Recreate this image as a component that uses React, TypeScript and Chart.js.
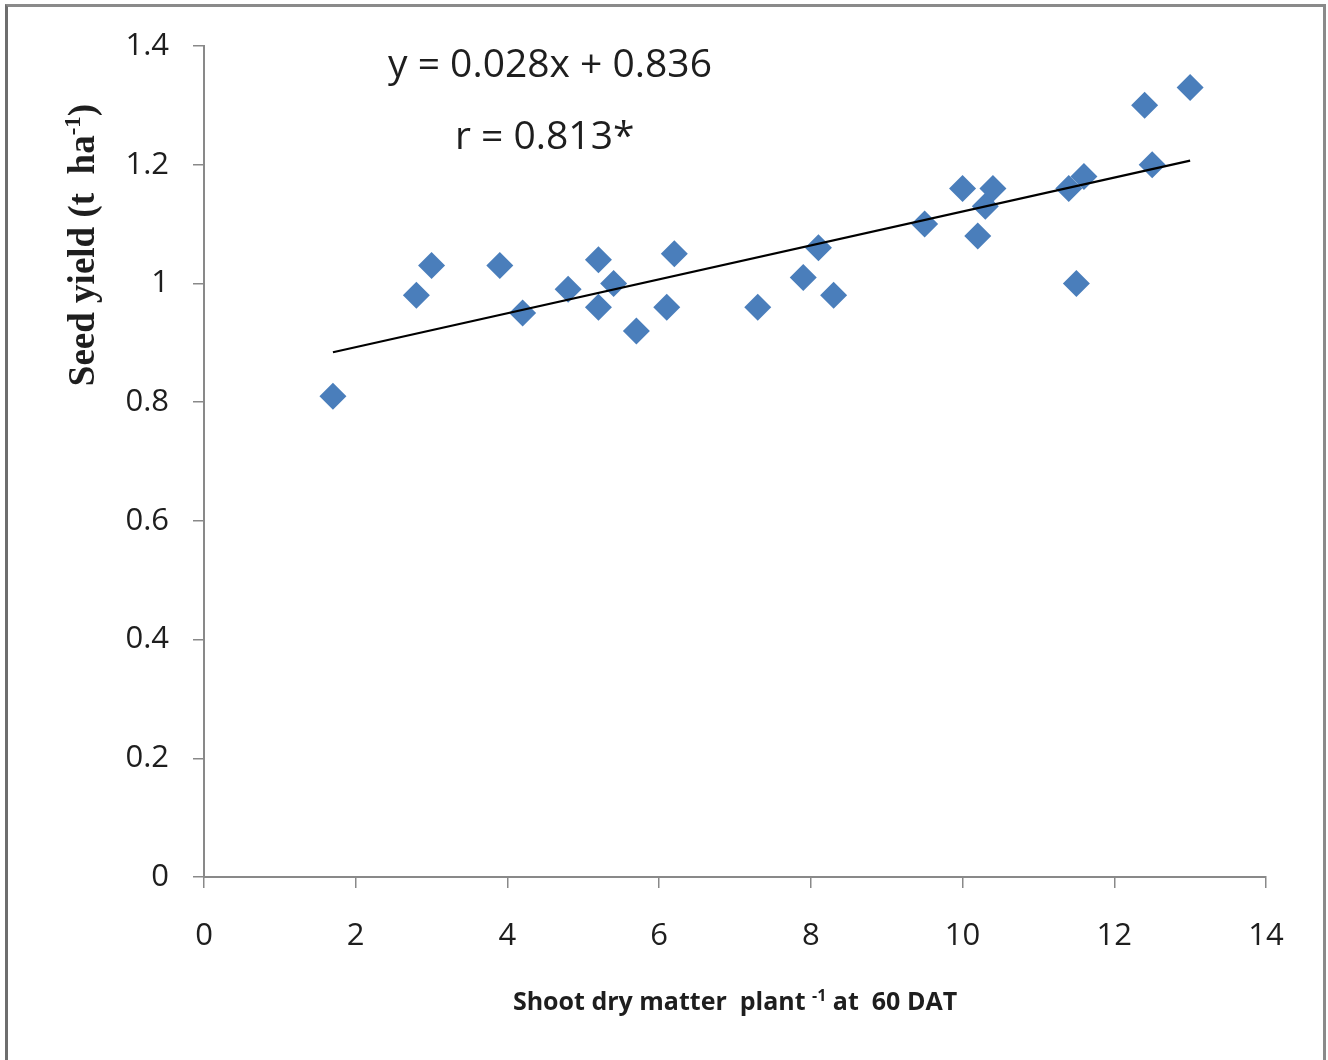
import React, { useEffect, useRef } from 'react';
import { Chart, registerables } from 'chart.js';

Chart.register(...registerables);

// Data
const shootDryMatter = [1.7, 2.8, 3.0, 3.9, 4.2, 4.8, 5.2, 5.2, 5.4, 5.7, 6.1, 6.2, 7.3, 7.9, 8.1, 8.3, 9.5, 10.0, 10.2, 10.3, 10.4, 11.4, 11.5, 11.6, 12.4, 12.5, 13.0];
const seedYield = [0.81, 0.98, 1.03, 1.03, 0.95, 0.99, 1.04, 0.96, 1.0, 0.92, 0.96, 1.05, 0.96, 1.01, 1.06, 0.98, 1.1, 1.16, 1.08, 1.13, 1.16, 1.16, 1.0, 1.18, 1.3, 1.2, 1.33];
const trendX = [1.7, 13.0];
const trendY = [0.884, 1.207];
const xTickLabels = ['0', '2', '4', '6', '8', '10', '12', '14'];
const yTickLabels = ['0', '0.2', '0.4', '0.6', '0.8', '1', '1.2', '1.4'];
const equationText = 'y = 0.028x + 0.836';
const correlationText = 'r = 0.813*';
const xTitleParts = [
  { t: 'Shoot dry matter  plant ', sup: false },
  { t: '-1', sup: true },
  { t: ' at  60 DAT', sup: false },
];
const yTitleParts = [
  { t: 'Seed yield (t  ha', sup: false },
  { t: '-1', sup: true },
  { t: ')', sup: false },
];

const W = 1328;
const H = 1060;
const AXIS_COLOR = '#898989';
const TEXT_COLOR = '#1e1e1e';
const POINT_COLOR = '#4a7ebb';

type Part = { t: string; sup: boolean };

function drawRich(
  ctx: CanvasRenderingContext2D,
  parts: Part[],
  cx: number,
  baseline: number,
  font: (size: number) => string,
  size: number
) {
  const supSize = Math.round(size * 0.62);
  let total = 0;
  const widths = parts.map((p) => {
    ctx.font = font(p.sup ? supSize : size);
    const w = ctx.measureText(p.t).width;
    total += w;
    return w;
  });
  let x = cx - total / 2;
  ctx.textAlign = 'left';
  ctx.textBaseline = 'alphabetic';
  parts.forEach((p, i) => {
    ctx.font = font(p.sup ? supSize : size);
    ctx.fillText(p.t, x, p.sup ? baseline - size * 0.38 : baseline);
    x += widths[i];
  });
}

const textPlugin = {
  id: 'figureTexts',
  afterDraw(chart: any) {
    const ctx: CanvasRenderingContext2D = chart.ctx;
    const area = chart.chartArea;
    ctx.save();
    ctx.fillStyle = TEXT_COLOR;
    ctx.font = '39px "Open Sans"';
    ctx.textAlign = 'left';
    ctx.textBaseline = 'alphabetic';
    ctx.fillText(equationText, 388, 77);
    ctx.fillText(correlationText, 455, 149);

    // x-axis title
    drawRich(ctx, xTitleParts, (area.left + area.right) / 2, 1010, (s) => `bold ${s}px "Open Sans"`, 25);

    // y-axis title
    ctx.translate(94, 245);
    ctx.rotate(-Math.PI / 2);
    drawRich(ctx, yTitleParts, 0, 0, (s) => `bold ${s}px "Liberation Serif"`, 37);
    ctx.restore();
  },
};

export default function App() {
  const ref = useRef<HTMLCanvasElement | null>(null);

  useEffect(() => {
    if (!ref.current) return;
    const points = shootDryMatter.map((x, i) => ({ x, y: seedYield[i] }));
    const trend = trendX.map((x, i) => ({ x, y: trendY[i] }));
    const chart = new Chart(ref.current, {
      type: 'scatter',
      data: {
        datasets: [
          {
            type: 'line',
            label: 'Trend',
            data: trend,
            borderColor: '#000000',
            borderWidth: 2.2,
            pointRadius: 0,
            fill: false,
          } as any,
          {
            label: 'Seed yield',
            data: points,
            pointStyle: 'rectRot',
            pointRadius: 13.5,
            pointHoverRadius: 13.5,
            backgroundColor: POINT_COLOR,
            borderWidth: 0,
          },
        ],
      },
      options: {
        responsive: false,
        animation: false,
        layout: { padding: { left: 0, top: 46, right: 62, bottom: 0 } },
        plugins: {
          legend: { display: false },
          tooltip: { enabled: false },
        },
        scales: {
          x: {
            type: 'linear',
            min: 0,
            max: 14,
            afterFit: (s: any) => {
              s.height = H - 877;
            },
            ticks: {
              stepSize: 2,
              color: TEXT_COLOR,
              font: { family: '"Open Sans"', size: 31 },
              padding: 30,
              maxRotation: 0,
              callback: (_v: any, i: number) => xTickLabels[i],
            },
            grid: {
              drawOnChartArea: false,
              drawTicks: true,
              tickLength: 11,
              color: AXIS_COLOR,
              lineWidth: 1.5,
            },
            border: { color: AXIS_COLOR, width: 2 },
          },
          y: {
            type: 'linear',
            min: 0,
            max: 1.4,
            afterFit: (s: any) => {
              s.width = 204;
            },
            ticks: {
              stepSize: 0.2,
              color: TEXT_COLOR,
              font: { family: '"Open Sans"', size: 31 },
              padding: 24,
              callback: (_v: any, i: number) => yTickLabels[i],
            },
            grid: {
              drawOnChartArea: false,
              drawTicks: true,
              tickLength: 11,
              color: AXIS_COLOR,
              lineWidth: 1.5,
            },
            border: { color: AXIS_COLOR, width: 2 },
          },
        },
      },
      plugins: [textPlugin],
    });
    return () => chart.destroy();
  }, []);

  return (
    <div
      style={{
        position: 'absolute',
        left: 0,
        top: 0,
        width: W,
        height: H,
        overflow: 'hidden',
        background: '#ffffff',
      }}
    >
      <canvas ref={ref} width={W} height={H} style={{ position: 'absolute', left: 0, top: 0, width: W, height: H }} />
      <div
        style={{
          position: 'absolute',
          left: 5,
          top: 4,
          width: 1315,
          height: 1100,
          borderLeft: '3px solid #6e6e6e',
          borderTop: '3px solid #8a8a8a',
          borderRight: '3px solid #8a8a8a',
          pointerEvents: 'none',
        }}
      />
    </div>
  );
}
